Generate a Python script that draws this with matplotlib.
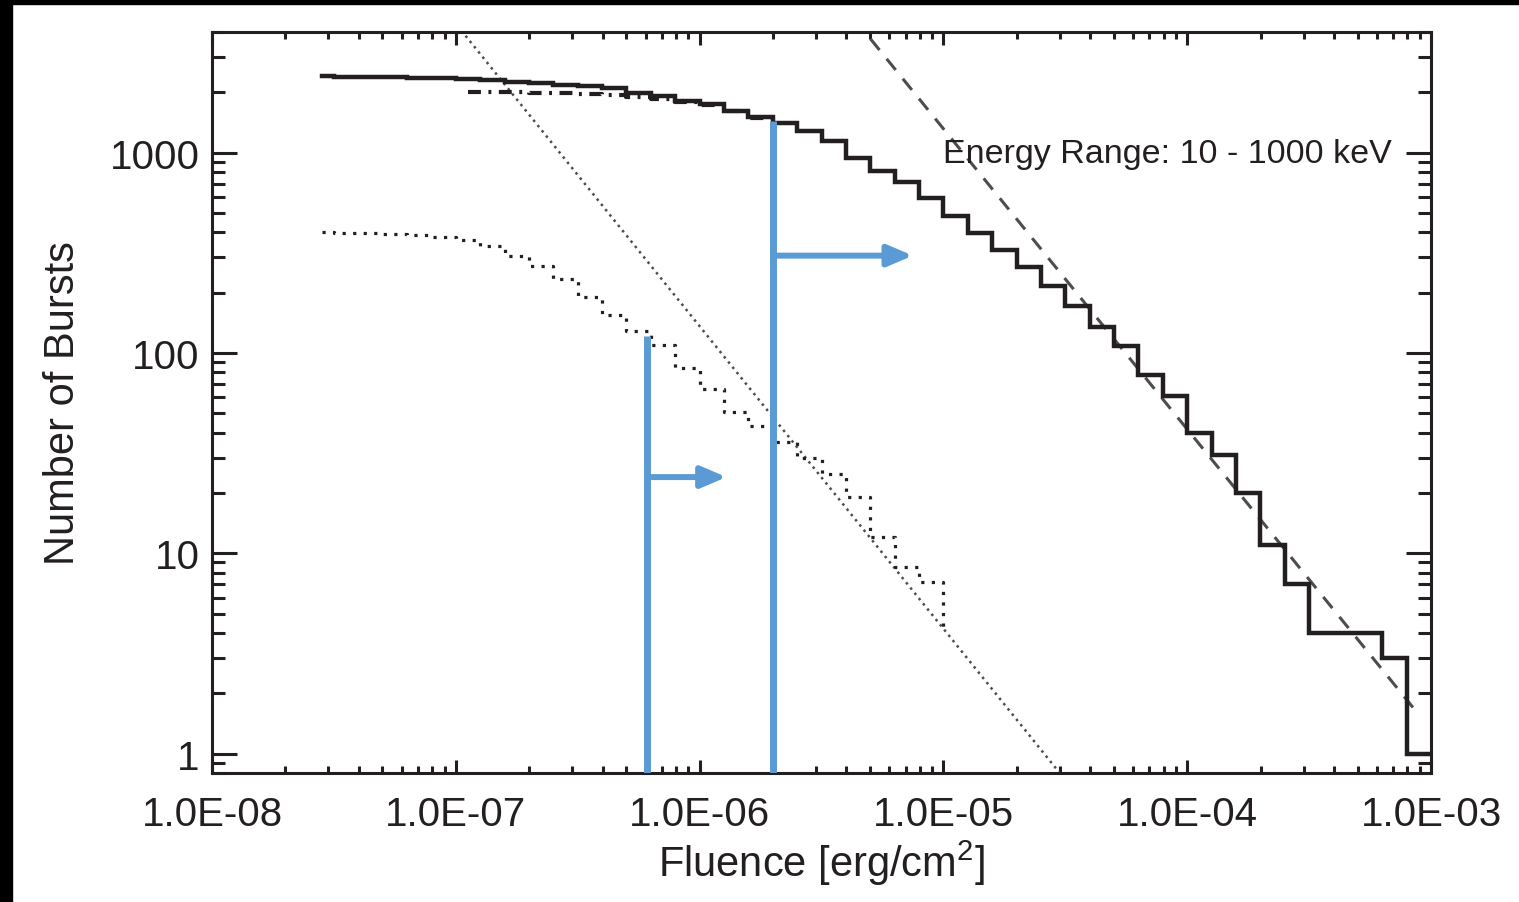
import numpy as np
import matplotlib
matplotlib.use("Agg")
import matplotlib.pyplot as plt
from matplotlib.ticker import LogLocator, FuncFormatter, NullFormatter
from matplotlib.patches import Rectangle

plt.rcParams['font.family'] = ['Liberation Sans', 'DejaVu Sans']
plt.rcParams['mathtext.fontset'] = 'custom'
plt.rcParams['mathtext.rm'] = 'Liberation Sans'
plt.rcParams['mathtext.default'] = 'regular'

ink = '#231f20'
grey = '#4d4d4d'
blue = '#5b9bd5'

# cumulative counts, log10(fluence) bin edges
total_logf = [-7.55, -7.5, -7.4, -7.3, -7.2, -7.1, -7.0, -6.9, -6.8, -6.7, -6.6, -6.5,
              -6.4, -6.3, -6.2, -6.1, -6.0, -5.9, -5.8, -5.7, -5.6, -5.5, -5.4, -5.3,
              -5.2, -5.1, -5.0, -4.9, -4.8, -4.7, -4.6, -4.5, -4.4, -4.3, -4.2, -4.1,
              -4.0, -3.9, -3.8, -3.7, -3.6, -3.5, -3.4, -3.3, -3.2, -3.1, -3.0]
total_n = [2400, 2395, 2390, 2380, 2370, 2355, 2330, 2300, 2260, 2220, 2180, 2150,
           2110, 1990, 1920, 1820, 1740, 1620, 1500, 1410, 1275, 1140, 940, 813,
           716, 596, 485, 399, 328, 270, 215, 172, 134, 108, 78, 61,
           40, 31, 20, 11, 7, 4, 4, 4, 3, 1, 1]

dashdot_logf = [-6.95, -6.9, -6.8, -6.7, -6.6, -6.5, -6.4, -6.3, -6.2, -6.1, -6.0, -5.9, -5.8, -5.7]
dashdot_n = [2010, 2005, 2000, 1990, 1980, 1965, 1945, 1890, 1850, 1790, 1720, 1610, 1495, 1495]

dim_logf = [-7.55, -7.5, -7.4, -7.3, -7.2, -7.1, -7.0, -6.9, -6.8, -6.7, -6.6, -6.5,
            -6.4, -6.3, -6.2, -6.1, -6.0, -5.9, -5.8, -5.7, -5.6, -5.5, -5.4, -5.3,
            -5.2, -5.1, -5.0]
dim_n = [400, 398, 395, 392, 388, 380, 366, 340, 303, 273, 235, 191,
         154, 129, 110, 84, 66, 51, 43, 36, 30, 25, 19, 12,
         8.5, 7.2, 4]

# power-law fits N = norm * (F / pivot)^index
total_fit = dict(norm=41.6, pivot=1e-4, index=-1.5, lo=1e-6, hi=8.43e-4)
dim_fit = dict(norm=136.0, pivot=1e-6, index=-1.51, lo=5e-8, hi=1e-4)

# fluence thresholds (blue markers)
thresh_f = [6.1e-7, 2.0e-6]
thresh_top = [122, 1445]
arrow_n = [24, 306]
arrow_tip = [1.29e-6, 7.5e-6]

fig = plt.figure(figsize=(15.19, 9.03), dpi=100, facecolor='white')
ax = fig.add_axes([212 / 1519, 1 - 774 / 903, 1219 / 1519, 741 / 903])
ax.set_xscale('log')
ax.set_yscale('log')
ax.set_xlim(1e-8, 1e-3)
ax.set_ylim(0.8, 4000)

def fit_line(p):
    f = np.array([p['lo'], p['hi']])
    return f, p['norm'] * (f / p['pivot']) ** p['index']

f, n = fit_line(dim_fit)
ax.plot(f, n, color=grey, lw=1.8, linestyle=(0, (1, 1.7)), dash_capstyle='butt')
f, n = fit_line(total_fit)
ax.plot(f, n, color=grey, lw=2.2, linestyle=(0, (4.7, 3.7)), dash_capstyle='butt')

ax.step(10 ** np.array(dim_logf), dim_n, where='post', color=ink, lw=2.3,
        linestyle=(0, (1, 2.3)), dash_capstyle='butt')
ax.step(10 ** np.array(dashdot_logf), dashdot_n, where='post', color=ink, lw=3,
        linestyle=(0, (3.1, 1.8, 0.7, 1.8)), dash_capstyle='butt')
ax.step(10 ** np.array(total_logf), total_n, where='post', color=ink, lw=3.2,
        solid_joinstyle='miter')

for xf, top, yn, tip in zip(thresh_f, thresh_top, arrow_n, arrow_tip):
    ax.plot([xf, xf], [0.8, top], color=blue, lw=5, solid_capstyle='butt', zorder=4)
    ax.annotate('', xy=(tip, yn), xytext=(xf, yn),
                arrowprops=dict(arrowstyle='-|>,head_length=0.75,head_width=0.32',
                                mutation_scale=20, lw=4.3, color=blue,
                                shrinkA=0, shrinkB=0), zorder=4)

ax.text(0.968, 0.8246, 'Energy Range: 10 - 1000 keV', transform=ax.transAxes,
        ha='right', va='baseline', fontsize=24.5, color=ink)

for s in ax.spines.values():
    s.set_linewidth(2.2)
    s.set_color(ink)

ax.xaxis.set_major_locator(LogLocator(base=10))
ax.xaxis.set_minor_locator(LogLocator(base=10, subs=np.arange(2, 10)))
ax.xaxis.set_major_formatter(FuncFormatter(lambda v, p: f"{v:.1E}"))
ax.xaxis.set_minor_formatter(NullFormatter())
ax.yaxis.set_major_locator(LogLocator(base=10))
ax.yaxis.set_minor_locator(LogLocator(base=10, subs=np.arange(2, 10)))
ax.yaxis.set_major_formatter(FuncFormatter(lambda v, p: f"{v:g}"))
ax.yaxis.set_minor_formatter(NullFormatter())

ax.tick_params(which='both', direction='in', top=True, right=True, width=2.2,
               color=ink, labelcolor=ink, labelsize=29)
ax.tick_params(axis='x', which='major', length=9.4, pad=16)
ax.tick_params(axis='x', which='minor', length=5)
ax.tick_params(axis='y', which='major', length=18, pad=9)
ax.tick_params(axis='y', which='minor', length=9.4)

ax.set_xlabel(r'Fluence [erg/cm$^2$]', fontsize=30, color=ink, labelpad=3)
ax.set_ylabel('Number of Bursts', fontsize=30, color=ink, labelpad=19)

# black frame strips of the original image
fig.add_artist(Rectangle((0, 1 - 5 / 903), 1, 5 / 903, transform=fig.transFigure,
                         color='black', zorder=10))
fig.add_artist(Rectangle((0, 0), 12 / 1519, 1, transform=fig.transFigure,
                         color='black', zorder=10))

fig.savefig('out.png', dpi=100)
